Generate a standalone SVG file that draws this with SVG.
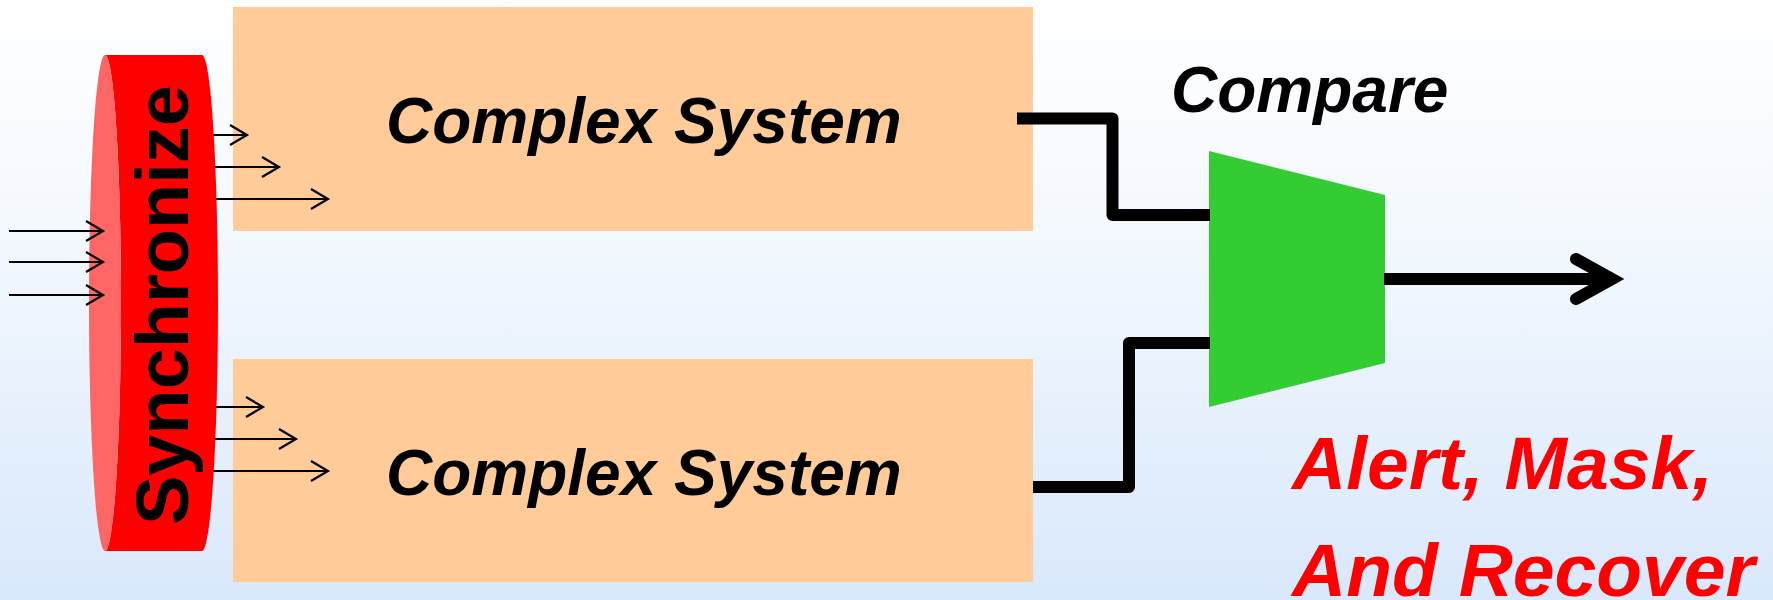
<svg xmlns="http://www.w3.org/2000/svg" width="1773" height="600" viewBox="0 0 1773 600">
  <defs>
    <linearGradient id="bg" x1="0" y1="0" x2="0" y2="1">
      <stop offset="0" stop-color="#ffffff"/>
      <stop offset="0.4" stop-color="#f3f8fe"/>
      <stop offset="1" stop-color="#d9e8fb"/>
    </linearGradient>
    <marker id="thin-head" markerUnits="userSpaceOnUse" markerWidth="22" markerHeight="26" refX="18" refY="11" orient="auto">
      <path d="M1,1 L18,11 L1,21" fill="none" stroke="#000" stroke-width="2.2"/>
    </marker>
    <marker id="thick-head" markerUnits="userSpaceOnUse" markerWidth="64" markerHeight="60" refX="44" refY="26" orient="auto">
      <path d="M8,6 L44,26 L8,46" fill="none" stroke="#000" stroke-width="12" stroke-linecap="round" stroke-linejoin="miter"/>
    </marker>
  </defs>
  <style>
    .sys { fill: #ffcb98; }
    .label { font-family: "Liberation Sans", Arial, sans-serif; font-weight: bold; font-style: italic; fill: #000; }
    .sync { font-family: "Liberation Sans", Arial, sans-serif; font-weight: bold; fill: #000; font-size: 74px; }
    .alert { font-family: "Liberation Sans", Arial, sans-serif; font-weight: bold; font-style: italic; fill: #ff0000; font-size: 75px; }
    .thin { fill: none; stroke: #000; stroke-width: 2.2; marker-end: url(#thin-head); }
    .wire { fill: none; stroke: #000; stroke-width: 12; stroke-linejoin: round; }
  </style>

  <rect x="0" y="0" width="1773" height="600" fill="url(#bg)"/>

  <!-- synchronizer drum -->
  <g id="synchronize">
    <path d="M105,55 L202,55 A16,248 0 0 1 202,551 L105,551 A16,248 0 0 0 105,55 Z" fill="#ff0000"/>
    <ellipse cx="105" cy="303" rx="16" ry="248" fill="#ff6666"/>
    <text class="sync" transform="translate(188,305) rotate(-90)" text-anchor="middle">Synchronize</text>
  </g>

  <!-- the two replicated systems -->
  <g id="system-top">
    <rect class="sys" x="233" y="7" width="800" height="224"/>
    <text class="label" x="386" y="143" font-size="64">Complex System</text>
  </g>
  <g id="system-bottom">
    <rect class="sys" x="233" y="359" width="800" height="223"/>
    <text class="label" x="386" y="495" font-size="64">Complex System</text>
  </g>

  <!-- comparator -->
  <g id="compare">
    <polygon points="1209,151 1385,195 1385,363 1209,407" fill="#33cc33"/>
    <text class="label" x="1171" y="112" font-size="64">Compare</text>
  </g>

  <g id="outcome">
    <text class="alert" x="1292" y="489">Alert, Mask,</text>
    <text class="alert" x="1292" y="596">And Recover</text>
  </g>

  <g id="connectors">
    <!-- inputs into the synchronizer -->
    <line class="thin" x1="9" y1="231" x2="103" y2="231"/>
    <line class="thin" x1="9" y1="262" x2="103" y2="262"/>
    <line class="thin" x1="9" y1="295" x2="103" y2="295"/>
    <!-- synchronized inputs, top system -->
    <line class="thin" x1="213" y1="135" x2="247" y2="135"/>
    <line class="thin" x1="215" y1="167" x2="279" y2="167"/>
    <line class="thin" x1="216" y1="199" x2="328" y2="199"/>
    <!-- synchronized inputs, bottom system -->
    <line class="thin" x1="216" y1="407" x2="263" y2="407"/>
    <line class="thin" x1="215" y1="439" x2="296" y2="439"/>
    <line class="thin" x1="213" y1="471" x2="328" y2="471"/>
    <!-- system outputs into the comparator -->
    <path class="wire" d="M1017,118.5 L1112.5,118.5 L1112.5,215 L1210,215"/>
    <path class="wire" d="M1033,487 L1129,487 L1129,343 L1210,343"/>
    <!-- comparator output -->
    <path class="wire" d="M1384,279 L1612,279" marker-end="url(#thick-head)"/>
  </g>
</svg>
